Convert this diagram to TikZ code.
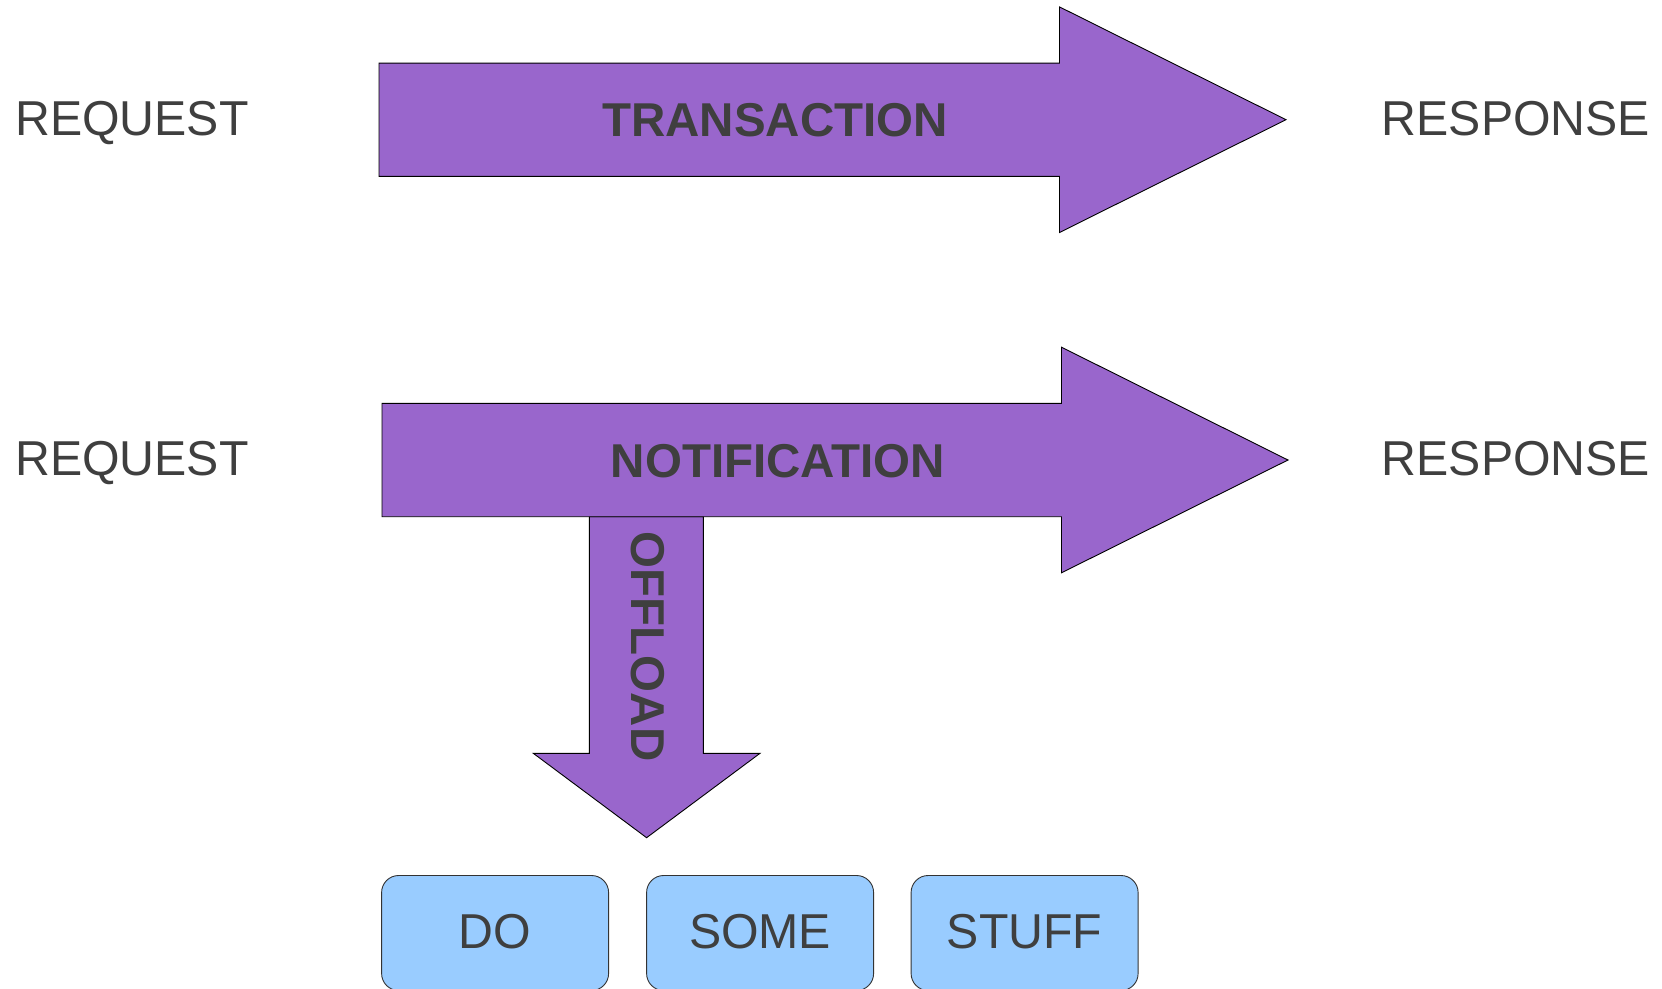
\documentclass[tikz,border=0pt]{standalone}
\usepackage{fontspec}
\setmainfont{Liberation Sans}
\newfontfamily\labelfont[FakeStretch=0.985]{Liberation Sans}
\definecolor{flowpurple}{HTML}{9966CC}
\definecolor{taskblue}{HTML}{99CCFF}
\definecolor{inkgray}{HTML}{3F3F3F}
\definecolor{edgegray}{HTML}{333333}
\begin{document}
\begin{tikzpicture}[x=1pt,y=-1pt,
  flow/.style={fill=flowpurple, draw=black, line width=0.9pt, line join=miter},
  plain/.style={text=inkgray, font=\labelfont\fontsize{49}{56}\selectfont, inner sep=0pt, anchor=base},
  heavy/.style={text=inkgray, font=\bfseries\fontsize{47.5}{56}\selectfont, inner sep=0pt, anchor=base},
  task/.style={draw=edgegray, fill=taskblue, line width=0.9pt, rounded corners=17pt,
    minimum width=227pt, minimum height=115pt, inner sep=0pt, text=inkgray,
    text height=35pt, text depth=4pt,
    font=\labelfont\fontsize{49}{56}\selectfont}]
\useasboundingbox (0,0) rectangle (1662,988);
\clip (0,0) rectangle (1662,988);

% transaction arrow
\draw[flow] (379,63.1) -- (1059.5,63.1) -- (1059.5,6.9) -- (1286,119.7)
  -- (1059.5,232.5) -- (1059.5,176.3) -- (379,176.3) -- cycle;
% offload arrow (drawn first so the notification edge sits on top)
\draw[flow] (589.3,516.7) -- (589.3,753.3) -- (533.3,753.3) -- (646.6,837.7)
  -- (760,753.3) -- (703.3,753.3) -- (703.3,516.7) -- cycle;
% notification arrow
\draw[flow] (382,403.3) -- (1061.5,403.3) -- (1061.5,347.2) -- (1288,460)
  -- (1061.5,572.8) -- (1061.5,516.7) -- (382,516.7) -- cycle;

% side labels
\node[plain] (req1) at (132,135) {REQUEST};
\node[plain] (res1) at (1516,135) {RESPONSE};
\node[plain] (req2) at (132,475) {REQUEST};
\node[plain] (res2) at (1516,475) {RESPONSE};

% arrow labels
\node[heavy] (trans) at (775,136.7) {TRANSACTION};
\node[heavy] (notif) at (778,477) {NOTIFICATION};
\node[heavy, rotate=-90] (offl) at (631,646.7) {OFFLOAD};

% task boxes, cut off by the lower page edge
\node[task] (do)    at (495.1,933) {DO};
\node[task] (some)  at (760.1,933) {SOME};
\node[task] (stuff) at (1024.6,933) {STUFF};
\end{tikzpicture}
\end{document}
